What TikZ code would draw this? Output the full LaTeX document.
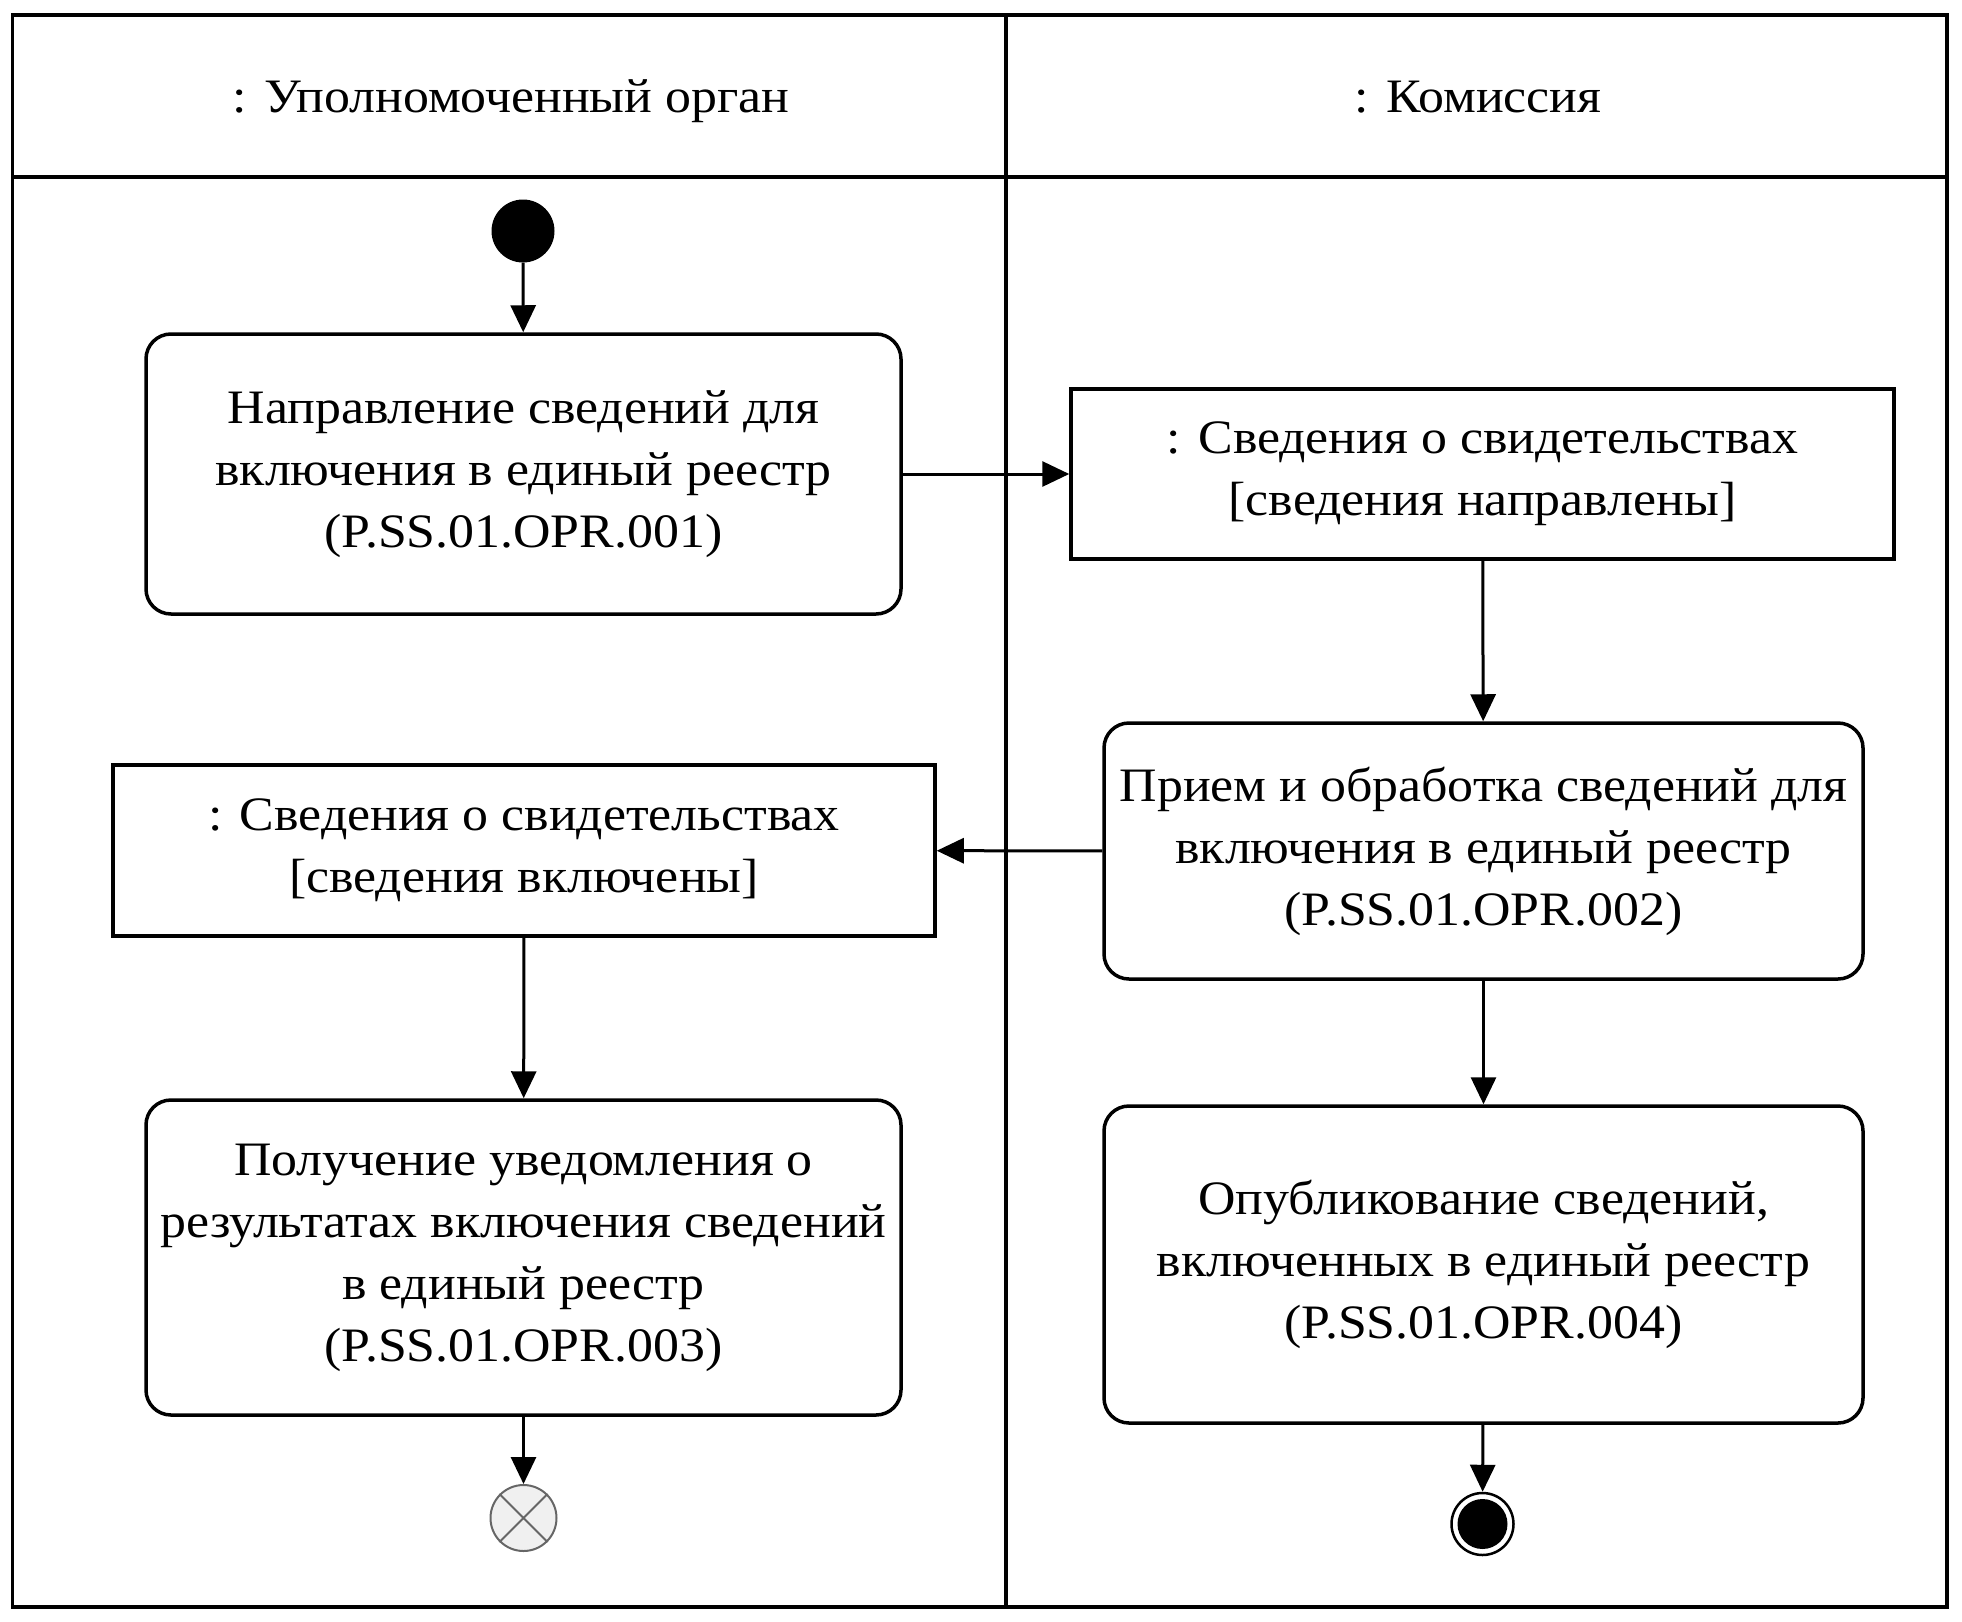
\documentclass[tikz,border=0pt]{standalone}
\usepackage{fontspec}
\setmainfont[FakeStretch=1.08]{Liberation Serif}
\usetikzlibrary{arrows.meta}
\begin{document}
\begin{tikzpicture}[x=1pt,y=-1pt,
  lane/.style={line width=3.2pt},
  txt/.style={align=center, inner sep=0pt, font=\fontsize{48}{62}\selectfont,
    execute at begin node={\rule{0pt}{54pt}}},
  act/.style={draw, line width=3.5pt, rounded corners=25pt, txt},
  obj/.style={draw, line width=3.5pt, txt},
  flow/.style={line width=3pt, -{Triangle[length=27pt,width=25pt]}},
  hdr/.style={font=\fontsize{48}{62}\selectfont, anchor=base}
]
\useasboundingbox (0,0) rectangle (1962,1622);
% swimlanes
\draw[lane] (12.5,15) rectangle (1947,1607);
\draw[line width=4pt] (12.5,176.5) -- (1947,176.5);
\draw[lane] (1006,15) -- (1006,1607);
\node[hdr] (h1) at (511,112) {: Уполномоченный орган};
\node[hdr] (h2) at (1478,112) {: Комиссия};
% nodes
\node[circle, fill=black, minimum size=63pt, inner sep=0pt] (init) at (523,231) {};
\node[act, minimum width=755pt, minimum height=280pt] (b1) at (523.5,474)
  {Направление сведений для\\включения в единый реестр\\(P.SS.01.OPR.001)};
\node[obj, minimum width=823pt, minimum height=170pt] (o1) at (1482.5,474)
  {: Сведения о свидетельствах\\{}[сведения направлены]};
\node[act, minimum width=759pt, minimum height=256pt] (b2) at (1483.5,851)
  {Прием и обработка сведений для\\включения в единый реестр\\(P.SS.01.OPR.002)};
\node[obj, minimum width=822pt, minimum height=171pt] (o2) at (524,850.5)
  {: Сведения о свидетельствах\\{}[сведения включены]};
\node[act, minimum width=755pt, minimum height=315pt] (b3) at (523.5,1257.5)
  {Получение уведомления о\\результатах включения сведений\\в единый реестр\\(P.SS.01.OPR.003)};
\node[act, minimum width=759pt, minimum height=317pt] (b4) at (1483.5,1264.5)
  {Опубликование сведений,\\включенных в единый реестр\\(P.SS.01.OPR.004)};
% flow final
\node[circle, draw=black!60, fill=black!6, line width=2pt, minimum size=66pt, inner sep=0pt] (ff) at (523.5,1518) {};
\draw[black!60, line width=2pt] (ff.north east) -- (ff.south west) (ff.north west) -- (ff.south east);
% activity final
\node[circle, draw=black, line width=2.5pt, minimum size=62pt, inner sep=0pt] (fin) at (1482.5,1524) {};
\node[circle, fill=black, minimum size=50pt, inner sep=0pt] (finin) at (fin.center) {};
% flows
\draw[flow] (init) -- (b1);
\draw[flow] (b1) -- (o1);
\draw[flow] (o1) -- (b2);
\draw[flow] (b2) -- (o2);
\draw[flow] (o2) -- (b3);
\draw[flow] (b2) -- (b4);
\draw[flow] (b3) -- (ff);
\draw[flow] (b4) -- (fin);
\end{tikzpicture}
\end{document}
